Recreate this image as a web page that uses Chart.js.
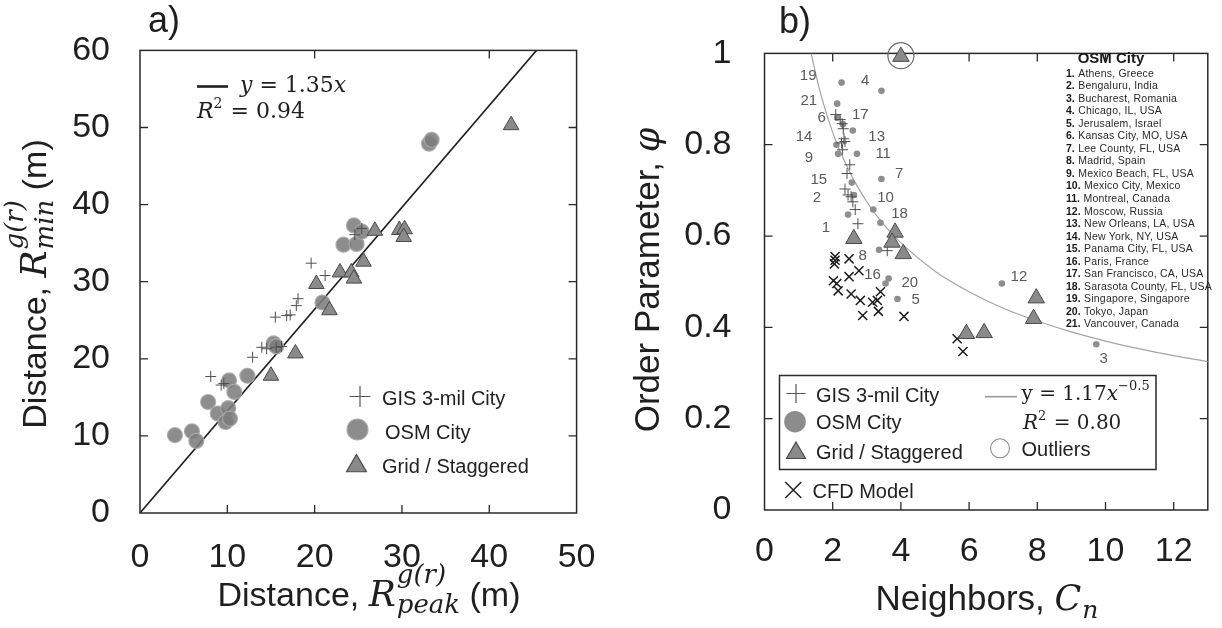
<!DOCTYPE html>
<html><head><meta charset="utf-8">
<script src="https://cdn.jsdelivr.net/npm/chart.js@4.4.0/dist/chart.umd.min.js"></script>
<style>
html,body{margin:0;padding:0;background:#fff;}
#wrap{position:relative;width:1222px;height:628px;overflow:hidden;background:#fff;}
#ca{position:absolute;left:0;top:0;}
#cb{position:absolute;left:620px;top:0;}
</style></head><body>
<div id="wrap"><canvas id="ca" width="620" height="628"></canvas><canvas id="cb" width="602" height="628"></canvas></div>
<script>
// ---------------- Panel a data ----------------
const aXTicks = [0, 10, 20, 30, 40, 50];
const aYTicks = [0, 10, 20, 30, 40, 50, 60];
const aTopTicks = [20, 40];
const aBottomTicks = [10, 20, 30, 40];
const aSideTicks = [10, 20, 30, 40, 50];
const aGisX = [8.1, 9.3, 9.6, 12.9, 13.95, 14.5, 15.6, 16.2, 15.5, 16.8, 17.2, 17.9, 18.1, 19.6, 21.2, 24.6, 25.4];
const aGisY = [17.7, 16.6, 16.8, 20.2, 21.5, 21.3, 21.5, 21.6, 25.4, 25.6, 25.7, 26.9, 27.8, 32.4, 30.8, 36.1, 36.9];
const aOsmX = [4.0, 5.95, 6.45, 7.8, 8.9, 9.8, 10.1, 10.3, 10.2, 10.8, 12.3, 15.3, 15.6, 20.9, 23.3, 24.5, 24.8, 25.4, 33.1, 33.4];
const aOsmY = [10.1, 10.6, 9.35, 14.4, 12.9, 11.8, 13.6, 12.25, 17.2, 15.7, 17.8, 22.0, 21.6, 27.3, 34.8, 37.3, 34.9, 36.5, 47.9, 48.4];
const aGridX = [15.0, 17.8, 20.2, 21.7, 22.9, 24.2, 24.5, 25.6, 26.9, 29.7, 30.3, 30.2, 42.5];
const aGridY = [17.8, 20.7, 29.7, 26.3, 31.2, 31.2, 30.4, 32.6, 36.6, 36.7, 36.8, 35.8, 50.3];
const aFitX = [0, 45.4];
const aFitY = [0, 60];

// ---------------- Panel b data ----------------
const bXTicks = [0, 2, 4, 6, 8, 10, 12];
const bYTicks = [0, 0.2, 0.4, 0.6, 0.8, 1];
const bYTickLabels = ['0', '0.2', '0.4', '0.6', '0.8', '1'];
const bTopTicks = [2, 4, 6, 8, 10, 12];
const bBottomTicks = [2, 4, 6, 8, 10, 12];
const bSideTicks = [0.2, 0.4, 0.6, 0.8];
const bGisX = [2.09, 2.22, 2.28, 2.31, 2.33, 2.26, 2.36, 2.29, 2.50, 2.42, 2.36, 2.45, 2.54, 2.59, 2.66, 2.74, 3.60];
const bGisY = [0.866, 0.855, 0.846, 0.835, 0.813, 0.804, 0.807, 0.789, 0.756, 0.737, 0.703, 0.690, 0.686, 0.675, 0.658, 0.627, 0.568];
const bOsmX = [2.26, 3.43, 2.13, 2.13, 2.30, 2.59, 2.11, 2.16, 2.71, 3.43, 2.56, 2.62, 3.19, 2.45, 3.40, 3.36, 3.64, 3.55, 3.90, 6.96, 9.73];
const bOsmY = [0.936, 0.918, 0.890, 0.859, 0.845, 0.831, 0.800, 0.780, 0.780, 0.725, 0.717, 0.690, 0.658, 0.647, 0.629, 0.570, 0.507, 0.496, 0.462, 0.496, 0.363];
const bGridX = [2.62, 3.83, 3.74, 4.07, 5.92, 6.44, 7.97, 7.89, 4.0];
const bGridY = [0.594, 0.608, 0.586, 0.561, 0.386, 0.388, 0.464, 0.419, 0.993];
const bCfdX = [2.07, 2.07, 2.05, 2.48, 2.77, 2.48, 2.02, 2.12, 2.16, 2.54, 2.81, 3.17, 3.31, 3.40, 2.88, 3.34, 4.09, 5.65, 5.82];
const bCfdY = [0.555, 0.547, 0.539, 0.550, 0.524, 0.511, 0.502, 0.496, 0.480, 0.473, 0.459, 0.455, 0.459, 0.478, 0.426, 0.435, 0.424, 0.375, 0.347];
const bOutX = [4.0];
const bOutY = [0.995];
const bFitX = [1.37, 1.6, 2, 2.5, 3, 3.5, 4, 5, 6, 7, 8, 9, 10, 11, 12, 13];
const bFitY = [1.0, 0.925, 0.827, 0.74, 0.675, 0.625, 0.585, 0.523, 0.478, 0.442, 0.414, 0.39, 0.37, 0.353, 0.338, 0.325];
const bLabelNum = ['19', '4', '21', '6', '17', '14', '13', '9', '11', '7', '15', '2', '10', '18', '1', '8', '16', '20', '5', '12', '3'];
const bLabelX = [1.28, 2.95, 1.30, 1.68, 2.81, 1.16, 3.29, 1.30, 3.48, 3.95, 1.59, 1.54, 3.55, 3.96, 1.80, 2.88, 3.17, 4.26, 4.43, 7.46, 9.95];
const bLabelY = [0.951, 0.940, 0.895, 0.858, 0.865, 0.818, 0.818, 0.771, 0.780, 0.736, 0.724, 0.684, 0.683, 0.649, 0.617, 0.556, 0.516, 0.498, 0.460, 0.511, 0.330];
const cityNames = ['Athens, Greece', 'Bengaluru, India', 'Bucharest, Romania', 'Chicago, IL, USA', 'Jerusalem, Israel',
  'Kansas City, MO, USA', 'Lee County, FL, USA', 'Madrid, Spain', 'Mexico Beach, FL, USA', 'Mexico City, Mexico',
  'Montreal, Canada', 'Moscow, Russia', 'New Orleans, LA, USA', 'New York, NY, USA', 'Panama City, FL, USA',
  'Paris, France', 'San Francisco, CA, USA', 'Sarasota County, FL, USA', 'Singapore, Singapore', 'Tokyo, Japan', 'Vancouver, Canada'];

// ---------------- helpers ----------------
const SANS = '"Liberation Sans", Arial, Helvetica, sans-serif';
const SERIF = '"DejaVu Serif", "Liberation Serif", serif';
const pts = (xs, ys) => xs.map((x, i) => ({x: x, y: ys[i]}));

function rich(ctx, parts, x, y, align, rot) {
  ctx.save();
  ctx.translate(x, y);
  if (rot) ctx.rotate(rot);
  ctx.textBaseline = 'alphabetic';
  ctx.textAlign = 'left';
  const ws = parts.map(p => {
    ctx.font = p.f;
    if (p.sup !== undefined) return Math.max(ctx.measureText(p.sup).width, ctx.measureText(p.sub || '').width) + (p.gap || 0);
    return ctx.measureText(p.t).width + (p.gap || 0);
  });
  const w = ws.reduce((s, v) => s + v, 0);
  let cx = align === 'center' ? -w / 2 : (align === 'right' ? -w : 0);
  parts.forEach((p, i) => {
    ctx.font = p.f;
    ctx.fillStyle = p.c || '#1f1f1f';
    if (p.sup !== undefined) {
      ctx.fillText(p.sup, cx, p.supdy);
      if (p.sub) ctx.fillText(p.sub, cx, p.subdy);
    } else {
      ctx.fillText(p.t, cx, p.dy || 0);
    }
    cx += ws[i];
  });
  ctx.restore();
}

function frameAndTicks(chart, top, bottom, side) {
  const {ctx, chartArea: a, scales: {x, y}} = chart;
  ctx.save();
  ctx.strokeStyle = '#2a2a2a';
  ctx.lineWidth = 1.5;
  ctx.strokeRect(a.left, a.top, a.right - a.left, a.bottom - a.top);
  ctx.lineWidth = 1.3;
  const L = 8;
  ctx.beginPath();
  top.forEach(v => { const px = x.getPixelForValue(v); ctx.moveTo(px, a.top); ctx.lineTo(px, a.top + L); });
  bottom.forEach(v => { const px = x.getPixelForValue(v); ctx.moveTo(px, a.bottom); ctx.lineTo(px, a.bottom - L); });
  side.forEach(v => { const py = y.getPixelForValue(v);
    ctx.moveTo(a.left, py); ctx.lineTo(a.left + L, py);
    ctx.moveTo(a.right, py); ctx.lineTo(a.right - L, py); });
  ctx.stroke();
  ctx.restore();
}

function mPlus(ctx, x, y, r, c, w) { ctx.save(); ctx.strokeStyle = c; ctx.lineWidth = w; ctx.beginPath(); ctx.moveTo(x - r, y); ctx.lineTo(x + r, y); ctx.moveTo(x, y - r); ctx.lineTo(x, y + r); ctx.stroke(); ctx.restore(); }
function mX(ctx, x, y, r, c, w) { ctx.save(); ctx.strokeStyle = c; ctx.lineWidth = w; ctx.beginPath(); ctx.moveTo(x - r, y - r); ctx.lineTo(x + r, y + r); ctx.moveTo(x - r, y + r); ctx.lineTo(x + r, y - r); ctx.stroke(); ctx.restore(); }
function mCircle(ctx, x, y, r, fill, stroke, w) { ctx.save(); ctx.beginPath(); ctx.arc(x, y, r, 0, Math.PI * 2); if (fill) { ctx.fillStyle = fill; ctx.fill(); } if (stroke) { ctx.strokeStyle = stroke; ctx.lineWidth = w; ctx.stroke(); } ctx.restore(); }
function mTri(ctx, x, y, r, fill, stroke, w) { ctx.save(); ctx.beginPath();
  for (let k = 0; k < 3; k++) { const ang = k * 2 * Math.PI / 3; const px = x + Math.sin(ang) * r, py = y - Math.cos(ang) * r; if (k === 0) ctx.moveTo(px, py); else ctx.lineTo(px, py); }
  ctx.closePath(); ctx.fillStyle = fill; ctx.fill(); ctx.strokeStyle = stroke; ctx.lineWidth = w; ctx.stroke(); ctx.restore(); }
function txt(ctx, s, x, y, font, color, align) { ctx.save(); ctx.font = font; ctx.fillStyle = color || '#1f1f1f'; ctx.textAlign = align || 'left'; ctx.textBaseline = 'alphabetic'; ctx.fillText(s, x, y); ctx.restore(); }

const tickFont = {family: SANS, size: 34};
const TRI_FILL = '#8a8a8a', TRI_EDGE = '#4a4a4a';

// ---------------- Panel a ----------------
const plugA = {
  id: 'plugA',
  beforeDatasetsDraw(chart) { frameAndTicks(chart, aTopTicks, aBottomTicks, aSideTicks); },
  afterDraw(chart) {
    const ctx = chart.ctx;
    txt(ctx, 'a)', 148, 32, `36px ${SANS}`, '#1f1f1f');
    // fit legend
    ctx.save(); ctx.strokeStyle = '#1f1f1f'; ctx.lineWidth = 2.6; ctx.beginPath(); ctx.moveTo(197, 86.5); ctx.lineTo(228, 86.5); ctx.stroke(); ctx.restore();
    rich(ctx, [{t: 'y', f: `italic 22px ${SERIF}`}, {t: ' = 1.35', f: `22px ${SERIF}`}, {t: 'x', f: `italic 22px ${SERIF}`}], 240, 92, 'left');
    rich(ctx, [{t: 'R', f: `italic 22px ${SERIF}`}, {t: '2', f: `14px ${SERIF}`, dy: -10, gap: 1}, {t: ' = 0.94', f: `22px ${SERIF}`}], 197, 118, 'left');
    // marker legend
    mPlus(ctx, 360, 396.5, 10.5, '#555', 1.2);
    txt(ctx, 'GIS 3-mil City', 382, 405, `20px ${SANS}`, '#222');
    mCircle(ctx, 357.5, 429.5, 10.5, 'rgba(128,128,128,0.9)', 'rgba(165,165,165,0.9)', 1.2);
    txt(ctx, 'OSM City', 385, 439, `20px ${SANS}`, '#222');
    mTri(ctx, 356.5, 466, 11.5, TRI_FILL, TRI_EDGE, 1.2);
    txt(ctx, 'Grid / Staggered', 382, 473, `20px ${SANS}`, '#222');
    // axis titles
    rich(ctx, [{t: 'Distance, ', f: `34px ${SANS}`}, {t: 'R', f: `italic 36px ${SERIF}`, gap: 1},
      {sup: 'g(r)', sub: 'peak', f: `italic 26px ${SERIF}`, supdy: -23, subdy: 7}, {t: ' (m)', f: `34px ${SANS}`}], 369, 606, 'center');
    rich(ctx, [{t: 'Distance, ', f: `34px ${SANS}`}, {t: 'R', f: `italic 36px ${SERIF}`, gap: 1},
      {sup: 'g(r)', sub: 'min', f: `italic 26px ${SERIF}`, supdy: -23, subdy: 7}, {t: ' (m)', f: `34px ${SANS}`}], 46, 284, 'center', -Math.PI / 2);
  }
};

new Chart(document.getElementById('ca'), {
  type: 'scatter',
  data: {datasets: [
    {data: pts(aGridX, aGridY), pointStyle: 'triangle', pointRadius: 9, backgroundColor: TRI_FILL, borderColor: TRI_EDGE, borderWidth: 1, order: 1},
    {data: pts(aGisX, aGisY), pointStyle: 'cross', pointRadius: 5.5, borderColor: '#505050', borderWidth: 1, backgroundColor: 'rgba(0,0,0,0)', order: 2},
    {data: pts(aOsmX, aOsmY), pointStyle: 'circle', pointRadius: 7.5, backgroundColor: 'rgba(125,125,125,0.88)', borderColor: 'rgba(170,170,170,0.9)', borderWidth: 1.2, order: 3},
    {data: pts(aFitX, aFitY), showLine: true, pointRadius: 0, borderColor: '#1f1f1f', borderWidth: 1.6, order: 4}
  ]},
  options: {
    responsive: false, animation: false, events: [],
    layout: {padding: {top: 48.5, right: 35, left: 0, bottom: 0}},
    plugins: {legend: {display: false}, tooltip: {enabled: false}},
    scales: {
      x: {type: 'linear', min: 0, max: 50,
        afterBuildTicks: s => { s.ticks = aXTicks.map(v => ({value: v})); },
        afterFit: s => { s.height = 115; },
        grid: {display: false, drawTicks: false}, border: {display: false},
        ticks: {font: tickFont, color: '#1f1f1f', padding: 24.5, maxRotation: 0}},
      y: {type: 'linear', min: 0, max: 60,
        afterBuildTicks: s => { s.ticks = aYTicks.map(v => ({value: v})); },
        afterFit: s => { s.width = 140; },
        grid: {display: false, drawTicks: false}, border: {display: false},
        ticks: {font: tickFont, color: '#1f1f1f', padding: 30}}
    }
  },
  plugins: [plugA]
});

// ---------------- Panel b ----------------
const plugB = {
  id: 'plugB',
  beforeDatasetsDraw(chart) { frameAndTicks(chart, bTopTicks, bBottomTicks, bSideTicks); },
  afterDatasetsDraw(chart) {
    const {ctx, scales: {x, y}} = chart;
    ctx.save();
    ctx.font = `15px ${SANS}`; ctx.fillStyle = '#5a5a5a'; ctx.textAlign = 'center'; ctx.textBaseline = 'middle';
    bLabelNum.forEach((s, i) => ctx.fillText(s, x.getPixelForValue(bLabelX[i]), y.getPixelForValue(bLabelY[i])));
    ctx.restore();
  },
  afterDraw(chart) {
    const ctx = chart.ctx;
    txt(ctx, 'b)', 159, 33, `36px ${SANS}`, '#1f1f1f');
    // city list
    txt(ctx, 'OSM City', 491, 62.5, `bold 15px ${SANS}`, '#1a1a1a', 'center');
    cityNames.forEach((name, i) => {
      const yy = 72.7 + i * 12.53 + 4;
      ctx.save();
      ctx.font = `bold 10.5px ${SANS}`; ctx.fillStyle = '#1a1a1a'; ctx.textBaseline = 'alphabetic';
      const num = (i + 1) + '.';
      ctx.fillText(num, 446, yy);
      const w = ctx.measureText(num).width;
      ctx.font = `10.5px ${SANS}`; ctx.fillStyle = '#2a2a2a';
      try { ctx.letterSpacing = '0.2px'; } catch (e) {}
      ctx.fillText(name, 446 + w + 3.5, yy);
      ctx.restore();
    });
    // legend box
    ctx.save(); ctx.strokeStyle = '#2a2a2a'; ctx.lineWidth = 1.5; ctx.strokeRect(159.5, 375.5, 376.5, 94); ctx.restore();
    mPlus(ctx, 176, 393.5, 9.5, '#555', 1.2);
    txt(ctx, 'GIS 3-mil City', 196, 401.5, `20px ${SANS}`, '#222');
    mCircle(ctx, 175, 421.7, 10.8, '#8c8c8c', null, 0);
    txt(ctx, 'OSM City', 196, 429, `20px ${SANS}`, '#222');
    mTri(ctx, 176, 453, 11, TRI_FILL, TRI_EDGE, 1.2);
    txt(ctx, 'Grid / Staggered', 196, 459, `20px ${SANS}`, '#222');
    ctx.save(); ctx.strokeStyle = '#9a9a9a'; ctx.lineWidth = 1.6; ctx.beginPath(); ctx.moveTo(365, 396.7); ctx.lineTo(397, 396.7); ctx.stroke(); ctx.restore();
    rich(ctx, [{t: 'y = 1.17', f: `20px ${SERIF}`}, {t: 'x', f: `italic 20px ${SERIF}`}, {t: '\u22120.5', f: `13px ${SERIF}`, dy: -10}], 401.5, 400, 'left');
    rich(ctx, [{t: 'R', f: `italic 20px ${SERIF}`}, {t: '2', f: `13px ${SERIF}`, dy: -9, gap: 1}, {t: ' = 0.80', f: `20px ${SERIF}`}], 403, 429, 'left');
    mCircle(ctx, 380, 448.3, 9.5, null, '#8a8a8a', 1.1);
    txt(ctx, 'Outliers', 401.5, 456, `20px ${SANS}`, '#222');
    mX(ctx, 173.3, 490, 8, '#222', 1.5);
    txt(ctx, 'CFD Model', 192.5, 498, `20px ${SANS}`, '#222');
    // axis titles
    rich(ctx, [{t: 'Neighbors, ', f: `35px ${SANS}`}, {t: 'C', f: `italic 35px ${SERIF}`, gap: 1},
      {sup: '', sub: 'n', f: `italic 25px ${SERIF}`, supdy: 0, subdy: 8}], 367, 610, 'center');
    rich(ctx, [{t: 'Order Parameter, ', f: `35px ${SANS}`}, {t: '\u03c6', f: `italic 35px ${SERIF}`}], 39, 280, 'center', -Math.PI / 2);
  }
};

new Chart(document.getElementById('cb'), {
  type: 'scatter',
  data: {datasets: [
    {data: pts(bOutX, bOutY), pointStyle: 'circle', pointRadius: 13, backgroundColor: 'rgba(0,0,0,0)', borderColor: '#6a6a6a', borderWidth: 1.2, clip: false, order: 0},
    {data: pts(bGridX, bGridY), pointStyle: 'triangle', pointRadius: 9.5, backgroundColor: TRI_FILL, borderColor: TRI_EDGE, borderWidth: 1, clip: false, order: 1},
    {data: pts(bCfdX, bCfdY), pointStyle: 'crossRot', pointRadius: 6.4, borderColor: '#1e1e1e', borderWidth: 1.5, backgroundColor: 'rgba(0,0,0,0)', order: 2},
    {data: pts(bGisX, bGisY), pointStyle: 'cross', pointRadius: 5.5, borderColor: '#505050', borderWidth: 1, backgroundColor: 'rgba(0,0,0,0)', order: 3},
    {data: pts(bOsmX, bOsmY), pointStyle: 'circle', pointRadius: 3.3, backgroundColor: '#8e8e8e', borderColor: '#8e8e8e', borderWidth: 0, order: 4},
    {data: pts(bFitX, bFitY), showLine: true, pointRadius: 0, borderColor: '#a5a5a5', borderWidth: 1.2, cubicInterpolationMode: 'monotone', order: 5}
  ]},
  options: {
    responsive: false, animation: false, events: [],
    layout: {padding: {top: 46.5, right: 4, left: 0, bottom: 0}},
    plugins: {legend: {display: false}, tooltip: {enabled: false}},
    scales: {
      x: {type: 'linear', min: 0, max: 13,
        afterBuildTicks: s => { s.ticks = bXTicks.map(v => ({value: v})); },
        afterFit: s => { s.height = 118; },
        grid: {display: false, drawTicks: false}, border: {display: false},
        ticks: {font: tickFont, color: '#1f1f1f', padding: 21.5, maxRotation: 0}},
      y: {type: 'linear', min: 0, max: 1,
        afterBuildTicks: s => { s.ticks = bYTicks.map(v => ({value: v})); },
        afterFit: s => { s.width = 144.5; },
        grid: {display: false, drawTicks: false}, border: {display: false},
        ticks: {font: tickFont, color: '#1f1f1f', padding: 33,
          callback: (v, i) => bYTickLabels[i]}}
    }
  },
  plugins: [plugB]
});
</script>
</body></html>
